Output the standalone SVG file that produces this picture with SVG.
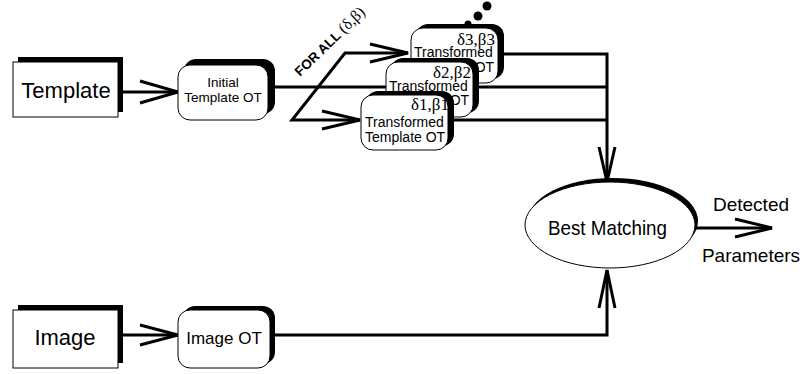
<svg xmlns="http://www.w3.org/2000/svg" width="806" height="374" viewBox="0 0 806 374">
<style>
.ln{fill:none;stroke:#000;stroke-width:3;stroke-linejoin:miter;stroke-linecap:butt}
.sh{fill:#000}
.fr{fill:#fff;stroke:#000;stroke-width:1}
.t{font-family:"Liberation Sans",Arial,sans-serif;fill:#000}
.g{font-family:"Liberation Serif","Times New Roman",serif;fill:#000}
</style>
<rect width="806" height="374" fill="#fff"/>
<g id="connectors">
<line class="ln" x1="118" y1="92" x2="178" y2="92"/>
<path class="ln" d="M140,81 L178,92 L140,103"/>
<line class="ln" x1="118" y1="335" x2="178" y2="335"/>
<path class="ln" d="M140,325 L178,335 L140,345"/>
<line class="ln" x1="272" y1="87" x2="607" y2="87"/>
<path class="ln" d="M360,120 L292,120 L345,53 L408,53"/>
<path class="ln" d="M370,44 L408,53 L370,62"/>
<path class="ln" d="M322,111 L360,120 L322,129"/>
<path class="ln" d="M500,54 L607,54 L607,182"/>
<line class="ln" x1="450" y1="120" x2="607" y2="120"/>
<path class="ln" d="M599,147 L607,182 L615,147"/>
<path class="ln" d="M272,335 L607,335 L607,270"/>
<path class="ln" d="M599,308 L607,270 L615,308"/>
<line class="ln" x1="695" y1="228" x2="772" y2="228"/>
<path class="ln" d="M735,219 L772,228 L735,237"/>
</g>
<text class="t" transform="translate(300,77) rotate(-44)"><tspan font-weight="bold" font-size="13.5">FOR ALL </tspan><tspan font-size="16" style="font-family:'Liberation Serif','Times New Roman',serif">(δ,β)</tspan></text>
<g id="template">
<rect class="sh" x="18" y="57" width="105" height="55"/>
<rect class="fr" x="13" y="62" width="105" height="55"/>
<text class="t" x="66" y="98" font-size="22" text-anchor="middle">Template</text>
</g>
<g id="initial">
<rect class="sh" x="184" y="59" width="91" height="55" rx="12"/>
<rect class="fr" x="178" y="65" width="90" height="55" rx="12"/>
<text class="t" x="223" y="87" font-size="13.5" text-anchor="middle">Initial</text>
<text class="t" x="223" y="102" font-size="13.5" text-anchor="middle">Template OT</text>
</g>
<g id="dots">
<circle cx="468" cy="24" r="3.5"/>
<circle cx="478" cy="16" r="4.5"/>
<circle cx="487" cy="6" r="4.5"/>
</g>
<g id="transformed3">
<rect class="sh" x="416" y="24" width="88" height="55" rx="12"/>
<rect class="fr" x="411" y="28" width="87" height="55" rx="12"/>
<text class="g" x="495" y="45" font-size="17" text-anchor="end">δ3,β3</text>
<text class="t" x="414" y="57" font-size="14">Transformed</text>
<text class="t" x="414" y="72" font-size="14">Template OT</text>
</g>
<g id="transformed2">
<rect class="sh" x="391" y="58" width="88" height="55" rx="12"/>
<rect class="fr" x="386" y="62" width="87" height="55" rx="12"/>
<text class="g" x="471" y="78" font-size="17" text-anchor="end">δ2,β2</text>
<text class="t" x="389" y="91" font-size="14">Transformed</text>
<text class="t" x="389" y="105" font-size="14">Template OT</text>
</g>
<g id="transformed1">
<rect class="sh" x="366" y="91" width="88" height="55" rx="12"/>
<rect class="fr" x="361" y="95" width="87" height="55" rx="12"/>
<text class="g" x="449" y="110" font-size="17" text-anchor="end">δ1,β1</text>
<text class="t" x="365" y="127" font-size="14">Transformed</text>
<text class="t" x="365" y="142" font-size="14">Template OT</text>
</g>
<g id="best">
<ellipse class="sh" cx="613" cy="221" rx="85" ry="43"/>
<ellipse class="fr" cx="610" cy="225" rx="85" ry="43"/>
<text class="t" x="548" y="235" font-size="21" textLength="119" lengthAdjust="spacingAndGlyphs">Best Matching</text>
</g>
<g id="output">
<text class="t" x="751" y="211" font-size="19" text-anchor="middle">Detected</text>
<text class="t" x="751" y="262" font-size="19" text-anchor="middle">Parameters</text>
</g>
<g id="image">
<rect class="sh" x="18" y="305" width="105" height="58"/>
<rect class="fr" x="13" y="310" width="105" height="58"/>
<text class="t" x="65" y="345" font-size="22" text-anchor="middle">Image</text>
</g>
<g id="imageot">
<rect class="sh" x="183" y="306" width="92" height="58" rx="12"/>
<rect class="fr" x="178" y="310" width="92" height="58" rx="12"/>
<text class="t" x="224" y="344" font-size="17" text-anchor="middle">Image OT</text>
</g>
</svg>
